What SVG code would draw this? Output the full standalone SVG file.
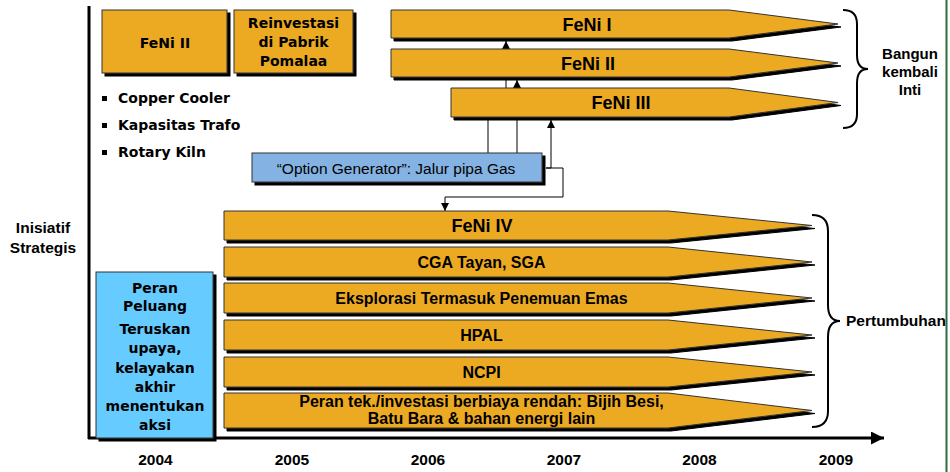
<svg xmlns="http://www.w3.org/2000/svg" width="950" height="472" viewBox="0 0 950 472">
<defs>
<filter id="sh" x="-5%" y="-20%" width="115%" height="150%">
<feOffset in="SourceAlpha" dx="3" dy="3" result="o"/>
<feMerge><feMergeNode in="o"/><feMergeNode in="SourceGraphic"/></feMerge>
</filter>
<marker id="ah" viewBox="0 0 10 10" refX="10" refY="5" markerWidth="8" markerHeight="8" markerUnits="userSpaceOnUse" orient="auto">
<path d="M0,0 L10,5 L0,10 Z" fill="#000"/>
</marker>
<marker id="axh" viewBox="0 0 10 10" refX="10" refY="5" markerWidth="14" markerHeight="13" markerUnits="userSpaceOnUse" orient="auto">
<path d="M0,0 L10,5 L0,10 Z" fill="#000"/>
</marker>
</defs>
<style>
.bar{fill:#ECAA20;stroke:#333;stroke-width:1;filter:url(#sh)}
.box{fill:#ECAA20;stroke:#333;stroke-width:1;filter:url(#sh)}
.blue{fill:#66CCFF;stroke:#333;stroke-width:1;filter:url(#sh)}
.og{fill:#84B2E2;stroke:#333;stroke-width:1;filter:url(#sh)}
.bt{font-family:"Liberation Sans",Arial,sans-serif;font-weight:bold;font-size:16px;fill:#000;text-anchor:middle}
.big{font-size:18px}
.dv{font-family:"DejaVu Sans",Verdana,sans-serif;font-weight:bold;font-size:14px;fill:#000}
.lb{font-family:"Liberation Sans",Arial,sans-serif;font-weight:bold;font-size:15.5px;fill:#000;text-anchor:middle}
.ls{font-family:"Liberation Sans",Arial,sans-serif;font-weight:bold;font-size:15.5px;fill:#000;text-anchor:start}
.conn{fill:none;stroke:#000;stroke-width:1}
.brace{fill:none;stroke:#000;stroke-width:2}
</style>
<rect width="950" height="472" fill="#fff"/>
<line x1="946.5" y1="0" x2="946.5" y2="472" stroke="#2E6B40" stroke-width="2"/>

<g id="connectors">
<path class="conn" d="M488,153 V104 H506 V41" marker-end="url(#ah)"/>
<path class="conn" d="M517,153 V80" marker-end="url(#ah)"/>
<path class="conn" d="M546,168 H551 V120" marker-end="url(#ah)"/>
<path class="conn" d="M546,168 H563 V197 H445 V211" marker-end="url(#ah)"/>
</g>

<g id="axes">
<line x1="89" y1="6" x2="89" y2="439" stroke="#000" stroke-width="3"/>
<line x1="88" y1="438" x2="884" y2="438" stroke="#000" stroke-width="3" marker-end="url(#axh)"/>
</g>

<g id="feni2-box"><rect class="box" x="102" y="10" width="125" height="63"/><text class="dv" x="165" y="48" text-anchor="middle">FeNi II</text></g>
<g id="reinvestasi-box"><rect class="box" x="234" y="10" width="119" height="63"/><text class="dv" text-anchor="middle"><tspan x="293.5" y="28">Reinvestasi</tspan><tspan x="293.5" y="47">di Pabrik</tspan><tspan x="293.5" y="66">Pomalaa</tspan></text></g>
<g id="bullets">
<rect x="102" y="96" width="5" height="5" fill="#000"/><text class="dv" x="118" y="103">Copper Cooler</text>
<rect x="102" y="123" width="5" height="5" fill="#000"/><text class="dv" x="118" y="130">Kapasitas Trafo</text>
<rect x="102" y="150" width="5" height="5" fill="#000"/><text class="dv" x="118" y="157">Rotary Kiln</text>
</g>

<g id="feni-i"><polygon class="bar" points="391,10 729,10 838,24 729,38 391,38"/><text class="bt big" x="587" y="30.5">FeNi I</text></g>
<g id="feni-ii"><polygon class="bar" points="391,49 729,49 838,63 729,77 391,77"/><text class="bt big" x="588" y="69.5">FeNi II</text></g>
<g id="feni-iii"><polygon class="bar" points="451,88 729,88 838,102.5 729,117 451,117"/><text class="bt big" x="621" y="109">FeNi III</text></g>

<g id="option-generator"><rect class="og" x="252" y="153" width="290" height="29"/><text x="396" y="174" font-family="Liberation Sans,Arial,sans-serif" font-size="15.5" text-anchor="middle" fill="#000">“Option Generator”: Jalur pipa Gas</text></g>

<g id="feni-iv"><polygon class="bar" points="224,211 668,211 812,225.5 668,240 224,240"/><text class="bt big" x="482" y="232">FeNi IV</text></g>
<g id="cga"><polygon class="bar" points="224,247 668,247 812,262 668,277 224,277"/><text class="bt" x="481.5" y="268">CGA Tayan, SGA</text></g>
<g id="eksplorasi"><polygon class="bar" points="224,283 668,283 812,298 668,313 224,313"/><text class="bt" x="481.5" y="304">Eksplorasi Termasuk Penemuan Emas</text></g>
<g id="hpal"><polygon class="bar" points="224,320 668,320 812,335 668,350 224,350"/><text class="bt" x="481.5" y="341">HPAL</text></g>
<g id="ncpi"><polygon class="bar" points="224,357 668,357 812,372 668,387 224,387"/><text class="bt" x="481.5" y="378">NCPI</text></g>
<g id="peran-tek"><polygon class="bar" points="224,393 668,393 812,410.5 668,428 224,428"/><text class="bt"><tspan x="481.5" y="407">Peran tek./investasi berbiaya rendah: Bijih Besi,</tspan><tspan x="481.5" y="424">Batu Bara &amp; bahan energi lain</tspan></text></g>

<g id="peran-peluang"><rect class="blue" x="96" y="272" width="117" height="166"/><text class="dv" font-size="13.5" text-anchor="middle"><tspan x="155" y="293">Peran</tspan><tspan x="155" y="311">Peluang</tspan><tspan x="155" y="334">Teruskan</tspan><tspan x="155" y="353">upaya,</tspan><tspan x="155" y="373">kelayakan</tspan><tspan x="155" y="392">akhir</tspan><tspan x="155" y="411">menentukan</tspan><tspan x="155" y="430">aksi</tspan></text></g>

<g id="inisiatif"><text class="lb"><tspan x="43" y="233">Inisiatif</tspan><tspan x="43" y="253">Strategis</tspan></text></g>

<g id="brace-top"><path class="brace" d="M843,10 Q857,10 857,24 V55 Q857,69 868,69 Q857,69 857,83 V114 Q857,128 843,128"/><text class="lb" style="font-size:15px"><tspan x="910" y="59">Bangun</tspan><tspan x="910" y="77">kembali</tspan><tspan x="910" y="95">Inti</tspan></text></g>
<g id="brace-bottom"><path class="brace" d="M812,215 Q828,215 828,231 V305 Q828,321 840,321 Q828,321 828,337 V411 Q828,427 812,427"/><text class="ls" x="846" y="326">Pertumbuhan</text></g>

<g id="years">
<text class="lb" x="155.5" y="465">2004</text>
<text class="lb" x="292" y="465">2005</text>
<text class="lb" x="428" y="465">2006</text>
<text class="lb" x="564" y="465">2007</text>
<text class="lb" x="699.5" y="465">2008</text>
<text class="lb" x="836" y="465">2009</text>
</g>
</svg>
